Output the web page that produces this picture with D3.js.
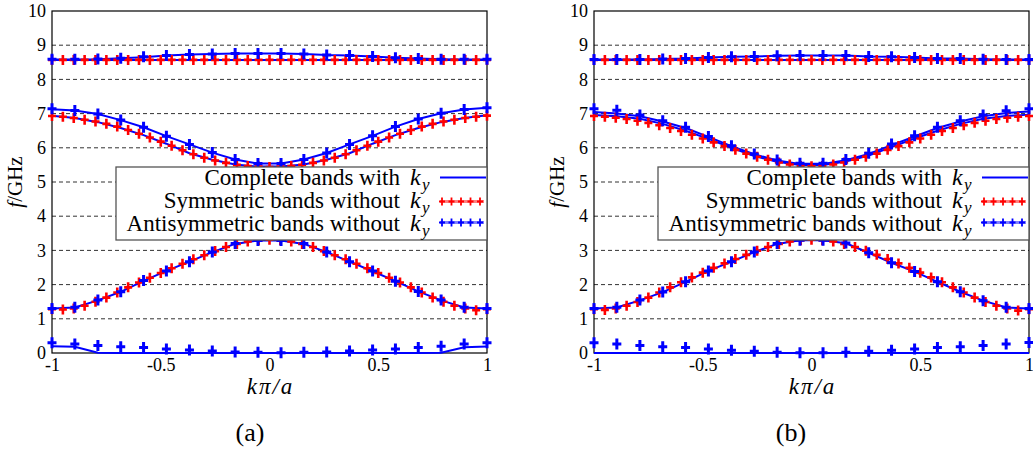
<!DOCTYPE html>
<html><head><meta charset="utf-8">
<script src="https://cdn.jsdelivr.net/npm/d3@7"></script>
<style>
html,body{margin:0;padding:0;background:#fff;}
svg{display:block;}
</style></head>
<body><svg id="c" width="1033" height="452"></svg>
<script>
// ---------- data ----------
const yTicks = [0,1,2,3,4,5,6,7,8,9,10];
const xTicks = [-1,-0.5,0,0.5,1];
const xTickLabels = ["-1","-0.5","0","0.5","1"];
const gridLevels = [1,2,3,4,5,6,7,8,9];
const legendLabels = ["Complete bands with","Symmetric bands without","Antisymmetric bands without"];
const panelLabels = ["(a)","(b)"];

// k positions of symmetric (red) samples
const kRed = [-1,-0.95,-0.9,-0.85,-0.8,-0.75,-0.7,-0.65,-0.6,-0.55,-0.5,-0.45,-0.4,-0.35,-0.3,-0.25,-0.2,-0.15,-0.1,-0.05,0,0.05,0.1,0.15,0.2,0.25,0.3,0.35,0.4,0.45,0.5,0.55,0.6,0.65,0.7,0.75,0.8,0.85,0.9,0.95,1];
// k positions of antisymmetric (blue) samples and complete-band lines
const kBlue = [-1,-0.895,-0.789,-0.684,-0.579,-0.474,-0.368,-0.263,-0.158,-0.053,0.053,0.158,0.263,0.368,0.474,0.579,0.684,0.789,0.895,1];

// ----- panel (a) -----
const symA_b2 = [1.28,1.27,1.3,1.38,1.5,1.62,1.77,1.92,2.06,2.2,2.34,2.48,2.61,2.74,2.86,2.98,3.1,3.19,3.26,3.3,3.31,3.3,3.26,3.19,3.1,2.98,2.86,2.74,2.61,2.48,2.34,2.2,2.06,1.92,1.77,1.62,1.5,1.38,1.3,1.25,1.28];
const symA_b3 = [6.93,6.91,6.87,6.82,6.77,6.7,6.62,6.52,6.41,6.3,6.18,6.06,5.93,5.81,5.71,5.63,5.56,5.5,5.47,5.45,5.44,5.45,5.47,5.5,5.56,5.63,5.71,5.81,5.93,6.06,6.18,6.3,6.41,6.52,6.62,6.7,6.77,6.82,6.87,6.91,6.94];
const symA_b4 = [8.57,8.57,8.57,8.57,8.57,8.57,8.57,8.57,8.57,8.57,8.57,8.57,8.57,8.57,8.57,8.57,8.57,8.57,8.57,8.57,8.57,8.57,8.57,8.57,8.57,8.57,8.57,8.57,8.57,8.57,8.57,8.57,8.57,8.57,8.57,8.57,8.57,8.57,8.57,8.57,8.57];
const antiA_b1 = [0.3,0.26,0.22,0.18,0.16,0.12,0.09,0.06,0.03,0.02,0.01,0.02,0.03,0.06,0.09,0.12,0.16,0.2,0.26,0.3];
const antiA_b2 = [1.3,1.34,1.55,1.79,2.12,2.4,2.67,2.95,3.2,3.29,3.29,3.2,2.95,2.67,2.4,2.1,1.8,1.55,1.34,1.3];
const antiA_b3 = [7.14,7.09,6.99,6.81,6.6,6.34,6.1,5.86,5.66,5.54,5.54,5.66,5.85,6.1,6.35,6.62,6.84,7.01,7.12,7.17];
const antiA_b4 = [8.59,8.59,8.6,8.62,8.66,8.7,8.73,8.74,8.76,8.76,8.76,8.74,8.71,8.7,8.67,8.63,8.61,8.59,8.59,8.59];
const compA_b1 = [0.2,0.18,0.01,0,0,0,0,0,0,0,0,0,0,0,0,0,0,0.01,0.17,0.19];
const compA_b2 = [1.3,1.33,1.54,1.79,2.11,2.4,2.67,2.95,3.19,3.29,3.29,3.19,2.95,2.67,2.39,2.1,1.8,1.54,1.33,1.3];
const compA_b3u = [7.13,7.09,6.99,6.81,6.6,6.34,6.1,5.86,5.66,5.54,5.54,5.66,5.85,6.1,6.35,6.62,6.84,7.01,7.12,7.17];
const compA_b3l = [6.94,6.87,6.75,6.58,6.37,6.12,5.84,5.65,5.51,5.45,5.45,5.51,5.65,5.84,6.12,6.37,6.58,6.75,6.87,6.95];
const compA_b4f = [8.57,8.57,8.57,8.57,8.57,8.57,8.57,8.57,8.57,8.57,8.57,8.57,8.57,8.57,8.57,8.57,8.57,8.57,8.57,8.57];
const compA_b4u = [8.58,8.58,8.59,8.62,8.65,8.7,8.73,8.74,8.76,8.76,8.76,8.74,8.71,8.7,8.67,8.63,8.61,8.59,8.58,8.58];

// ----- panel (b) -----
const symB_b2 = [1.28,1.26,1.3,1.38,1.49,1.62,1.77,1.92,2.07,2.21,2.35,2.49,2.62,2.75,2.87,2.99,3.1,3.19,3.26,3.3,3.31,3.3,3.26,3.19,3.1,2.99,2.87,2.75,2.62,2.49,2.35,2.21,2.07,1.92,1.77,1.62,1.49,1.38,1.3,1.24,1.28];
const symB_b3 = [6.93,6.91,6.88,6.84,6.79,6.73,6.66,6.58,6.49,6.38,6.27,6.16,6.05,5.94,5.83,5.74,5.65,5.57,5.51,5.47,5.46,5.47,5.51,5.57,5.65,5.74,5.83,5.94,6.05,6.16,6.27,6.38,6.49,6.58,6.66,6.73,6.79,6.84,6.88,6.91,6.93];
const symB_b4 = [8.57,8.57,8.57,8.57,8.57,8.57,8.57,8.57,8.57,8.57,8.57,8.57,8.57,8.57,8.57,8.57,8.57,8.57,8.57,8.57,8.57,8.57,8.57,8.57,8.57,8.57,8.57,8.57,8.57,8.57,8.57,8.57,8.57,8.57,8.57,8.57,8.57,8.57,8.57,8.57,8.57];
const antiB_b1 = [0.3,0.26,0.22,0.18,0.16,0.12,0.08,0.05,0.02,0.01,0.01,0.02,0.05,0.08,0.12,0.16,0.18,0.22,0.26,0.31];
const antiB_b2 = [1.3,1.34,1.55,1.78,2.08,2.4,2.67,2.95,3.2,3.3,3.3,3.22,2.93,2.64,2.38,2.08,1.79,1.53,1.34,1.3];
const antiB_b3 = [7.14,7.1,6.96,6.79,6.6,6.33,6.06,5.82,5.64,5.55,5.55,5.66,5.84,6.11,6.35,6.6,6.79,6.96,7.08,7.14];
const antiB_b4 = [8.58,8.58,8.58,8.6,8.61,8.64,8.66,8.67,8.69,8.7,8.7,8.7,8.67,8.66,8.64,8.61,8.61,8.59,8.58,8.58];
const compB_b1 = [0,0,0,0,0,0,0,0,0,0,0,0,0,0,0,0,0,0,0,0];
const compB_b2 = [1.3,1.33,1.54,1.78,2.08,2.4,2.67,2.95,3.19,3.3,3.3,3.21,2.93,2.64,2.38,2.08,1.79,1.53,1.33,1.3];
const compB_b3u = [7.05,7.0,6.92,6.77,6.58,6.32,6.05,5.81,5.63,5.53,5.53,5.64,5.82,6.08,6.33,6.58,6.77,6.92,7.02,7.06];
const compB_b3l = [6.96,6.92,6.85,6.7,6.5,6.26,6.0,5.76,5.59,5.5,5.5,5.6,5.77,6.02,6.27,6.5,6.7,6.85,6.93,6.97];
const compB_b4f = [8.57,8.57,8.57,8.57,8.57,8.57,8.57,8.57,8.57,8.57,8.57,8.57,8.57,8.57,8.57,8.57,8.57,8.57,8.57,8.57];
const compB_b4u = [8.58,8.58,8.58,8.6,8.61,8.64,8.66,8.67,8.69,8.7,8.7,8.7,8.67,8.66,8.64,8.61,8.61,8.59,8.58,8.58];

// ---------- font pick (serif, Times-like) ----------
function pickFont(cands) {
  const c = document.createElement("canvas").getContext("2d");
  const s = "Complete bands with kπ/a 0123456789";
  c.font = "40px monospace"; const m1 = c.measureText(s).width;
  c.font = "40px sans-serif"; const m2 = c.measureText(s).width;
  for (const f of cands) {
    c.font = `40px "${f}", monospace`; const a = c.measureText(s).width;
    c.font = `40px "${f}", sans-serif`; const b = c.measureText(s).width;
    if (a !== m1 && b !== m2 && Math.abs(a - b) < 0.5) return `"${f}"`;
  }
  return "serif";
}
const FONT = pickFont(["Liberation Serif", "Times New Roman", "Tinos", "Nimbus Roman", "DejaVu Serif", "Noto Serif"]);

// ---------- drawing ----------
const BLUE = "#0000ff", RED = "#ff0000";
const svg = d3.select("#c").style("font-family", FONT);
const zip = (ks, vs) => ks.map((k, i) => [k, vs[i]]);

function plusPath(v, h, t, d) {
  return `M${-t},${-v}H${t}V${-t}H${h}V${t}H${t}V${v}H${-t}V${t}H${-h}V${-t}H${-t}Z` +
         `M0,${-d}L${d},0L0,${d}L${-d},0Z`;
}
const blueMark = plusPath(5.5, 4.5, 1.5, 3.2);
const redMark = plusPath(5, 4, 1.3, 2.8);
const legMark = plusPath(4, 3, 0.9, 1.8);

const panels = [
  { x0: 52, label: panelLabels[0], labelX: 250,
    lines: [compA_b1, compA_b2, compA_b3u, compA_b3l, compA_b4f, compA_b4u],
    sym: [symA_b2, symA_b3, symA_b4],
    anti: [antiA_b1, antiA_b2, antiA_b3, antiA_b4] },
  { x0: 594, label: panelLabels[1], labelX: 791,
    lines: [compB_b1, compB_b2, compB_b3u, compB_b3l, compB_b4f, compB_b4u],
    sym: [symB_b2, symB_b3, symB_b4],
    anti: [antiB_b1, antiB_b2, antiB_b3, antiB_b4] }
];
const PW = 435, TOP = 11, BOT = 353;

panels.forEach(p => {
  const x = d3.scaleLinear().domain([-1, 1]).range([p.x0, p.x0 + PW]);
  const y = d3.scaleLinear().domain([0, 10]).range([BOT, TOP]);
  const g = svg.append("g");

  g.selectAll(".grid").data(gridLevels).enter().append("line")
    .attr("x1", x(-1)).attr("x2", x(1))
    .attr("y1", d => y(d)).attr("y2", d => y(d))
    .attr("stroke", "#333").attr("stroke-width", 1).attr("stroke-dasharray", "4,3");

  g.append("rect").attr("x", x(-1)).attr("y", y(10))
    .attr("width", x(1) - x(-1)).attr("height", y(0) - y(10))
    .attr("fill", "none").attr("stroke", "#000").attr("stroke-width", 1.2);

  const ay = g.append("g").attr("transform", `translate(${x(-1)},0)`)
    .call(d3.axisLeft(y).tickValues(yTicks).tickSize(0).tickPadding(6).tickFormat(d3.format("d")));
  ay.attr("font-family", null).attr("font-size", null);
  ay.select(".domain").remove();
  ay.selectAll("text").attr("font-size", 18).attr("fill", "#000");

  const ax = g.append("g").attr("transform", `translate(0,${y(0)})`)
    .call(d3.axisBottom(x).tickValues(xTicks).tickSize(0).tickPadding(5)
      .tickFormat((d, i) => xTickLabels[i]));
  ax.attr("font-family", null).attr("font-size", null);
  ax.select(".domain").remove();
  ax.selectAll("text").attr("font-size", 18).attr("fill", "#000");

  const line = d3.line().x(d => x(d[0])).y(d => y(d[1]));
  g.selectAll(".cl").data(p.lines).enter().append("path")
    .attr("d", d => line(zip(kBlue, d)))
    .attr("fill", "none").attr("stroke", BLUE).attr("stroke-width", 2);

  p.sym.forEach(s => {
    g.selectAll(null).data(zip(kRed, s)).enter().append("path")
      .attr("d", redMark)
      .attr("transform", d => `translate(${x(d[0])},${y(d[1])})`)
      .attr("fill", RED);
  });
  p.anti.forEach(s => {
    g.selectAll(null).data(zip(kBlue, s)).enter().append("path")
      .attr("d", blueMark)
      .attr("transform", d => `translate(${x(d[0])},${y(d[1])})`)
      .attr("fill", BLUE);
  });

  const yl = g.append("text")
    .attr("transform", `translate(${p.x0 - 30},${(TOP + BOT) / 2}) rotate(-90)`)
    .attr("text-anchor", "middle").attr("font-size", 21).attr("fill", "#000");
  yl.append("tspan").attr("font-style", "italic").text("f");
  yl.append("tspan").text("/GHz");

  g.append("text").attr("x", x(0) + 1).attr("y", 394)
    .attr("text-anchor", "middle").attr("font-size", 23).attr("font-style", "italic")
    .attr("letter-spacing", 2).attr("fill", "#000").text("kπ/a");

  g.append("text").attr("x", p.labelX).attr("y", 441)
    .attr("text-anchor", "middle").attr("font-size", 26).attr("fill", "#000").text(p.label);

  // legend
  const lx = p.x0 + 64, ly = 167;
  const lg = g.append("g");
  lg.append("rect").attr("x", lx).attr("y", ly).attr("width", x(1) - lx).attr("height", 73)
    .attr("fill", "#fff").attr("stroke", "#555").attr("stroke-width", 1.3);
  const rows = [185, 208, 231];
  const sampY = [177.5, 201.5, 222.5];
  legendLabels.forEach((t, i) => {
    lg.append("text").attr("x", lx + 284).attr("y", rows[i]).attr("text-anchor", "end")
      .attr("font-size", 23).attr("fill", "#000").text(t);
    lg.append("text").attr("x", lx + 294).attr("y", rows[i])
      .attr("font-size", 24).attr("font-style", "italic").attr("fill", "#000").text("k");
    lg.append("text").attr("x", lx + 306).attr("y", rows[i] + 5)
      .attr("font-size", 17).attr("font-style", "italic").attr("fill", "#000").text("y");
  });
  const sx0 = lx + 324, sx1 = lx + 368;
  lg.append("line").attr("x1", sx0).attr("x2", sx1 + 2).attr("y1", sampY[0]).attr("y2", sampY[0])
    .attr("stroke", BLUE).attr("stroke-width", 2);
  lg.append("line").attr("x1", sx0).attr("x2", sx1).attr("y1", sampY[1]).attr("y2", sampY[1])
    .attr("stroke", "#ff8080").attr("stroke-width", 3);
  lg.append("line").attr("x1", sx0).attr("x2", sx1).attr("y1", sampY[2]).attr("y2", sampY[2])
    .attr("stroke", "#8080ff").attr("stroke-width", 3);
  const sampK = [0, 1, 2, 3, 4];
  [[sampY[1], RED], [sampY[2], BLUE]].forEach(([yy, c]) => {
    lg.selectAll(null).data(sampK).enter().append("path")
      .attr("d", legMark)
      .attr("transform", d => `translate(${sx0 + 2 + d * 9.5},${yy})`)
      .attr("fill", c);
  });
});
</script></body></html>
